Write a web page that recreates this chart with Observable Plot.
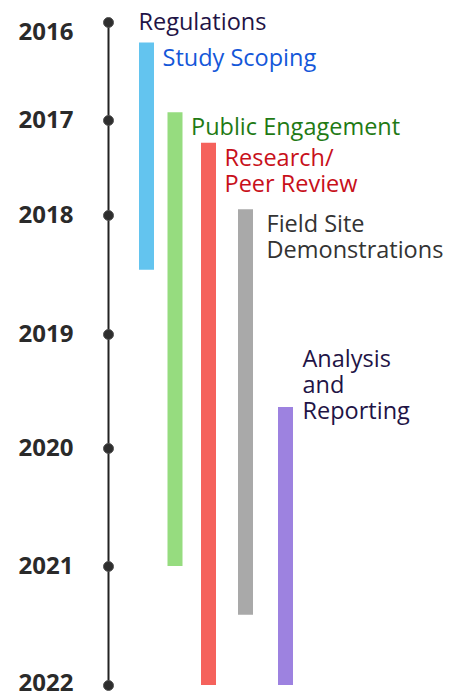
<!DOCTYPE html>
<html>
<head>
<meta charset="utf-8">
<script src="https://cdn.jsdelivr.net/npm/d3@7"></script>
<script src="https://cdn.jsdelivr.net/npm/@observablehq/plot@0.6"></script>
<style>
  html, body { margin: 0; padding: 0; background: #fff; }
  #chart svg { display: block; }
</style>
</head>
<body>
<div id="chart"></div>
<script>
// ---- data ----
const years = [2016, 2017, 2018, 2019, 2020, 2021, 2022];
const header = "Regulations";
const tasks = ["Study Scoping", "Public Engagement", "Research/\nPeer Review", "Field Site\nDemonstrations", "Analysis\nand\nReporting"];
const starts = [2016.21, 2016.92, 2017.24, 2017.94, 2019.64];
const ends = [2018.46, 2021.0, 2022.0, 2021.41, 2022.0];

// ---- styles ----
const barColors = ["#63c4ef", "#96dc7f", "#f5625c", "#a9a9a9", "#9d82e0"];
const textColors = ["#1457d9", "#1f7a14", "#c8101a", "#333333", "#1f1446"];
const font = "'Open Sans', sans-serif";

const rows = tasks.map((t, i) => ({
  task: t, lane: i + 1, start: starts[i], end: ends[i],
  bar: barColors[i], ink: textColors[i]
}));
const yearRows = years.map(y => ({year: y}));

const plot = Plot.plot({
  width: 457,
  height: 696,
  margin: 0,
  style: {background: "#fff", fontFamily: font},
  x: {type: "linear", domain: [0, 1, 2, 3, 4, 5], range: [108, 146, 174.5, 208, 245, 285], axis: null},
  y: {type: "linear", domain: years, range: [22, 120, 215, 334, 448, 566, 685], axis: null},
  marks: [
    // timeline spine
    Plot.ruleX([0], {y1: years[0], y2: years[years.length - 1], stroke: "#222", strokeWidth: 2}),
    Plot.dot(yearRows, {x: () => 0, y: "year", r: 5, fill: "#2e2e2e", stroke: "#555", strokeWidth: 1}),
    // year labels
    Plot.text(yearRows.slice(0, 1), {x: () => 0, y: "year", text: d => String(d.year), textAnchor: "end", dx: -35, dy: 10,
      fontSize: 24, fontWeight: "bold", fill: "#2a2a2a"}),
    Plot.text(yearRows.slice(1, -1), {x: () => 0, y: "year", text: d => String(d.year), textAnchor: "end", dx: -35,
      fontSize: 24, fontWeight: "bold", fill: "#2a2a2a"}),
    Plot.text(yearRows.slice(-1), {x: () => 0, y: "year", text: d => String(d.year), textAnchor: "end", dx: -35, dy: -2,
      fontSize: 24, fontWeight: "bold", fill: "#2a2a2a"}),
    // task bars
    Plot.ruleX(rows, {x: "lane", y1: "start", y2: "end", stroke: "bar", strokeWidth: 15}),
    // header
    Plot.text([header], {x: () => 1, y: () => years[0], text: d => d, textAnchor: "start", dx: -8,
      lineAnchor: "middle", fontSize: 23.5, fill: "#1f1446"}),
    // task labels
    Plot.text(rows.slice(0, 3), {x: "lane", y: "start", text: "task", fill: "ink", textAnchor: "start", lineAnchor: "top",
      dx: 16, dy: 4, fontSize: 23.5, lineHeight: 1.106}),
    Plot.text(rows.slice(3, 4), {x: "lane", y: "start", text: "task", fill: "ink", textAnchor: "start", lineAnchor: "top",
      dx: 21, dy: 4, fontSize: 23.5, lineHeight: 1.106}),
    Plot.text(rows.slice(4), {x: "lane", y: "start", text: "task", fill: "ink", textAnchor: "start", lineAnchor: "bottom",
      dx: 17, dy: 12, fontSize: 23.5, lineHeight: 1.106})
  ]
});
document.getElementById("chart").append(plot);
</script>
</body>
</html>
